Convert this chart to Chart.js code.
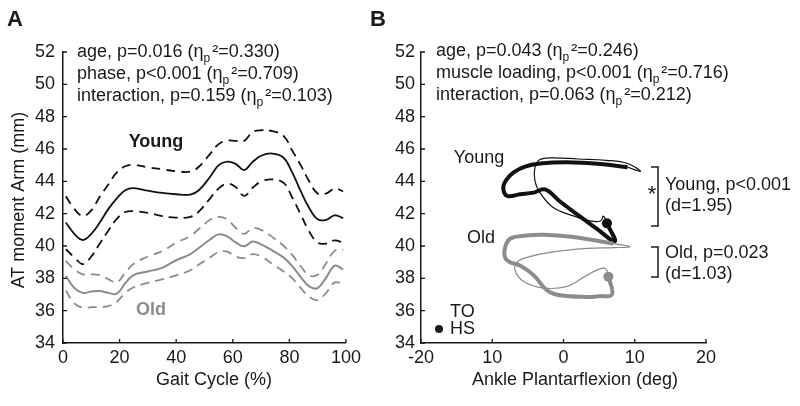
<!DOCTYPE html>
<html>
<head>
<meta charset="utf-8">
<script src="https://cdn.jsdelivr.net/npm/chart.js@4"></script>
<style>
  body { margin: 0; background: #fff; }
  #wrap { position: relative; width: 800px; height: 406px; }
  .panel { position: absolute; top: 0; height: 406px; }
</style>
</head>
<body>
<div id="wrap">
  <div class="panel" style="left:0;width:365px"><canvas id="chartA"></canvas></div>
  <div class="panel" style="left:365px;width:435px"><canvas id="chartB"></canvas></div>
</div>
<script>
// ---- panel A: moment arm over the gait cycle ----
const gaitPct = [1, 4, 7, 10, 13, 16, 19, 22, 25, 30, 35, 40, 45, 48, 52, 55, 58, 61, 64, 67, 70, 74, 78, 81, 84, 87, 90, 93, 96, 99];
const youngMean  = [41.45, 40.75, 40.37, 40.75, 41.45, 42.28, 42.95, 43.45, 43.58, 43.42, 43.28, 43.2, 43.18, 43.45, 44.28, 45.0, 45.22, 45.08, 44.7, 45.2, 45.58, 45.72, 45.45, 44.55, 43.4, 42.35, 41.65, 41.62, 41.9, 41.72];
const youngUpper = [43.07, 42.3, 41.85, 42.2, 43.05, 43.8, 44.55, 44.93, 45.02, 44.87, 44.75, 44.63, 44.6, 44.9, 45.7, 46.3, 46.52, 46.5, 46.5, 47.05, 47.16, 47.1, 46.8, 45.9, 45.0, 44.0, 43.25, 43.25, 43.55, 43.38];
const youngLower = [39.8, 39.3, 38.88, 39.35, 40.15, 40.95, 41.68, 42.1, 42.15, 42.05, 41.85, 41.76, 41.8, 42.13, 42.95, 43.56, 43.85, 43.65, 43.1, 43.6, 43.98, 44.12, 43.9, 43.0, 41.95, 40.9, 40.2, 40.15, 40.35, 40.2];
const oldMean    = [38.16, 37.4, 37.1, 37.18, 37.22, 37.1, 37.05, 37.7, 38.2, 38.42, 38.65, 39.12, 39.5, 39.88, 40.4, 40.72, 40.6, 40.22, 39.98, 40.28, 40.1, 39.72, 39.28, 38.75, 38.08, 37.5, 37.4, 38.05, 38.78, 38.55];
const oldUpper   = [39.08, 38.55, 38.25, 38.25, 38.2, 37.95, 37.75, 38.35, 38.9, 39.35, 39.68, 40.2, 40.62, 41.05, 41.62, 41.8, 41.65, 41.13, 40.75, 41.1, 41.0, 40.55, 40.0, 39.45, 38.75, 38.18, 38.22, 38.94, 39.7, 39.78];
const oldLower   = [37.24, 36.45, 36.18, 36.22, 36.22, 36.28, 36.55, 37.1, 37.45, 37.72, 37.94, 38.18, 38.5, 38.85, 39.3, 39.62, 39.65, 39.35, 39.25, 39.5, 39.35, 38.88, 38.42, 38.0, 37.4, 36.85, 36.65, 37.1, 37.75, 37.65];
const statsA = ['age, p=0.016', 'phase, p<0.001', 'interaction, p=0.159'];
const etaA = ['0.330', '0.709', '0.103'];

// ---- panel B: moment arm vs ankle angle ----
const youngThickX = [6.1, 7.2, 4.5, 2.0, -0.5, -2.6, -4.2, -6.1, -7.9, -8.45, -8.0, -7.0, -5.5, -3.3, 0.5, 5.2, 9.0];
const youngThickY = [41.4, 40.3, 41.12, 41.93, 42.75, 43.5, 43.3, 43.2, 43.1, 43.6, 44.1, 44.55, 44.9, 45.1, 45.18, 45.07, 44.87];
const youngThinX = [9.0, 10.8, 9.0, 6.0, 2.0, -1.5, -3.3, -4.0, -4.0, -3.3, -1.5, 1.4, 3.75, 5.2, 5.6, 6.1];
const youngThinY = [44.87, 44.62, 45.1, 45.3, 45.38, 45.45, 45.35, 44.9, 44.0, 43.3, 42.4, 41.86, 41.55, 41.55, 41.85, 41.4];
const oldThickX = [6.3, 6.8, 5.0, 3.3, -0.5, -2.3, -4.2, -6.1, -7.5, -8.2, -8.2, -7.5, -5.6, -2.8, 1.4, 7.0];
const oldThickY = [38.1, 37.0, 36.9, 36.85, 36.95, 37.25, 38.2, 38.8, 39.0, 39.3, 39.9, 40.45, 40.63, 40.7, 40.55, 40.15];
const oldThinX = [7.0, 9.4, 7.0, 3.3, -1.9, -5.1, -6.5, -6.8, -5.6, -2.8, 0.5, 3.3, 5.2, 6.0, 6.3];
const oldThinY = [40.15, 39.95, 39.9, 39.85, 39.6, 39.3, 39.0, 38.5, 37.8, 37.4, 37.5, 38.2, 38.6, 38.55, 38.1];
const hsX = [6.1, 6.3];
const hsY = [41.4, 38.1];
const xTickValues = [-20, -10, 0, 10, 20];
const xTickLabels = ['-20', '10', '0', '10', '20'];
const statsB = ['age, p=0.043', 'muscle loading, p<0.001', 'interaction, p=0.063'];
const etaB = ['0.246', '0.716', '0.212'];

const FONT = "'Liberation Sans', Arial, sans-serif";
const GREY = '#8c8c8c';
const INK = '#1a1a1a';

function pts(xs, ys) { return xs.map((x, i) => ({ x: x, y: ys[i] })); }

// matlab style ticks pointing into the plot
const innerTicks = {
  id: 'innerTicks',
  afterDraw(chart) {
    const ctx = chart.ctx, a = chart.chartArea;
    ctx.save();
    ctx.strokeStyle = INK;
    ctx.lineWidth = 1.3;
    ctx.beginPath();
    chart.scales.x.ticks.forEach(t => {
      const p = chart.scales.x.getPixelForValue(t.value);
      ctx.moveTo(p, a.bottom); ctx.lineTo(p, a.bottom - 4);
    });
    chart.scales.y.ticks.forEach(t => {
      const p = chart.scales.y.getPixelForValue(t.value);
      ctx.moveTo(a.left, p); ctx.lineTo(a.left + 4, p);
    });
    ctx.stroke();
    ctx.restore();
  }
};

function drawStat(ctx, x, y, txt, eta) {
  ctx.font = '18px ' + FONT;
  ctx.textAlign = 'left';
  ctx.textBaseline = 'middle';
  const head = txt + ' (η';
  ctx.fillText(head, x, y);
  let w = ctx.measureText(head).width;
  ctx.font = '12px ' + FONT;
  ctx.fillText('p', x + w, y + 7);
  w += ctx.measureText('p').width + 2;
  ctx.font = '18px ' + FONT;
  ctx.fillText('²=' + eta + ')', x + w, y);
}

function text(ctx, s, x, y, font, align, color) {
  ctx.font = font;
  ctx.textAlign = align || 'left';
  ctx.textBaseline = 'middle';
  ctx.fillStyle = color || INK;
  ctx.fillText(s, x, y);
}

const decorA = {
  id: 'decorA',
  afterDraw(chart) {
    const ctx = chart.ctx;
    ctx.save();
    ctx.fillStyle = INK;
    text(ctx, 'A', 15, 20, 'bold 22px ' + FONT, 'center');
    statsA.forEach((s, i) => { ctx.fillStyle = INK; drawStat(ctx, 77, 52 + i * 22, s, etaA[i]); });
    text(ctx, 'Young', 156, 142, 'bold 18px ' + FONT, 'center');
    text(ctx, 'Old', 151, 310, 'bold 18px ' + FONT, 'center', GREY);
    text(ctx, 'Gait Cycle (%)', 214, 380, '18px ' + FONT, 'center');
    ctx.translate(19, 200);
    ctx.rotate(-Math.PI / 2);
    text(ctx, 'AT moment Arm (mm)', 0, 0, '18px ' + FONT, 'center');
    ctx.restore();
  }
};

const decorB = {
  id: 'decorB',
  afterDraw(chart) {
    const ctx = chart.ctx;
    const o = 365; // panel offset in the page
    ctx.save();
    text(ctx, 'B', 378 - o, 20, 'bold 22px ' + FONT, 'center');
    statsB.forEach((s, i) => { ctx.fillStyle = INK; drawStat(ctx, 436 - o, 51 + i * 22, s, etaB[i]); });
    text(ctx, 'Young', 479 - o, 158, '18px ' + FONT, 'center');
    text(ctx, 'Old', 481 - o, 238, '18px ' + FONT, 'center');
    // brackets
    ctx.strokeStyle = INK;
    ctx.lineWidth = 1.5;
    ctx.beginPath();
    ctx.moveTo(651 - o, 167); ctx.lineTo(658 - o, 167); ctx.lineTo(658 - o, 226); ctx.lineTo(651 - o, 226);
    ctx.moveTo(651 - o, 247); ctx.lineTo(658 - o, 247); ctx.lineTo(658 - o, 277); ctx.lineTo(651 - o, 277);
    ctx.stroke();
    text(ctx, '*', 652 - o, 195, '22px ' + FONT, 'center');
    text(ctx, 'Young, p<0.001', 665 - o, 185, '18px ' + FONT);
    text(ctx, '(d=1.95)', 665 - o, 206, '18px ' + FONT);
    text(ctx, 'Old, p=0.023', 665 - o, 253, '18px ' + FONT);
    text(ctx, '(d=1.03)', 665 - o, 274, '18px ' + FONT);
    // TO / HS key
    text(ctx, 'TO', 450 - o, 312, '18px ' + FONT);
    text(ctx, 'HS', 450 - o, 329, '18px ' + FONT);
    ctx.fillStyle = INK;
    ctx.beginPath(); ctx.arc(439 - o, 329, 4, 0, Math.PI * 2); ctx.fill();
    text(ctx, 'Ankle Plantarflexion (deg)', 575 - o, 380, '18px ' + FONT, 'center');
    ctx.restore();
  }
};

function axisOpts(min, max, step, size, labelPad, extra) {
  return Object.assign({
    type: 'linear', min: min, max: max,
    grid: { display: false, drawTicks: false },
    border: { display: true, color: INK, width: 1.5 },
    ticks: { stepSize: step, padding: labelPad, color: INK, font: { family: FONT, size: 18 } },
    afterFit: s => { if (s.isHorizontal()) s.height = size; else s.width = size; }
  }, extra || {});
}

Chart.defaults.font.family = FONT;

const lineStyle = (color, width, dash) => ({
  borderColor: color, borderWidth: width, borderDash: dash || [],
  pointRadius: 0, tension: 0.4, fill: false
});

new Chart(document.getElementById('chartA'), {
  type: 'line',
  data: {
    datasets: [
      Object.assign({ data: pts(gaitPct, oldUpper) }, lineStyle(GREY, 1.8, [9, 6])),
      Object.assign({ data: pts(gaitPct, oldLower) }, lineStyle(GREY, 1.8, [9, 6])),
      Object.assign({ data: pts(gaitPct, oldMean) }, lineStyle(GREY, 2)),
      Object.assign({ data: pts(gaitPct, youngUpper) }, lineStyle('#111', 1.8, [9, 6])),
      Object.assign({ data: pts(gaitPct, youngLower) }, lineStyle('#111', 1.8, [9, 6])),
      Object.assign({ data: pts(gaitPct, youngMean) }, lineStyle('#111', 1.8))
    ]
  },
  options: {
    responsive: true, maintainAspectRatio: false, animation: false,
    layout: { padding: { left: 0, right: 17, top: 52, bottom: 0 } },
    plugins: { legend: { display: false }, tooltip: { enabled: false } },
    scales: {
      x: axisOpts(0, 100, 20, 63, 4),
      y: axisOpts(34, 52, 2, 63, 8)
    }
  },
  plugins: [innerTicks, decorA]
});

new Chart(document.getElementById('chartB'), {
  type: 'scatter',
  data: {
    datasets: [
      Object.assign({ data: pts(oldThinX, oldThinY), showLine: true }, lineStyle(GREY, 1.2)),
      Object.assign({ data: pts(oldThickX, oldThickY), showLine: true }, lineStyle(GREY, 4)),
      Object.assign({ data: pts(youngThinX, youngThinY), showLine: true }, lineStyle('#111', 1.2)),
      Object.assign({ data: pts(youngThickX, youngThickY), showLine: true }, lineStyle('#111', 4)),
      { data: pts(hsX, hsY), showLine: false, pointRadius: 5, pointBorderWidth: 0,
        pointBackgroundColor: ['#111', GREY] }
    ]
  },
  options: {
    responsive: true, maintainAspectRatio: false, animation: false,
    layout: { padding: { left: 0, right: 94, top: 52, bottom: 0 } },
    plugins: { legend: { display: false }, tooltip: { enabled: false } },
    scales: {
      x: axisOpts(-20, 20, 10, 63, 4, {
        afterBuildTicks: s => { s.ticks = xTickValues.map(v => ({ value: v })); }
      }),
      y: axisOpts(34, 52, 2, 56, 6)
    }
  },
  plugins: [innerTicks, decorB]
});
// tick labels for the angle axis come from xTickLabels
Chart.getChart('chartB').options.scales.x.ticks.callback = (v) => xTickLabels[xTickValues.indexOf(v)];
Chart.getChart('chartB').update();
</script>
</body>
</html>
